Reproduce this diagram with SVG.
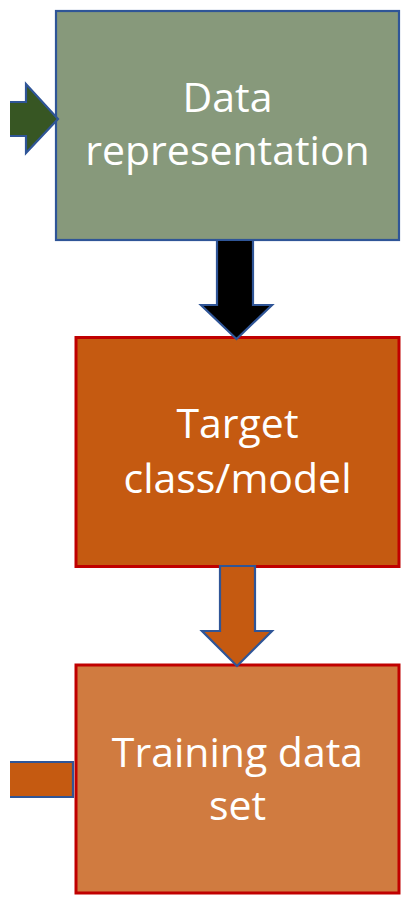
<svg xmlns="http://www.w3.org/2000/svg" width="410" height="901" viewBox="0 0 410 901">
  <style>
    .label { font-family: "Open Sans", "Noto Sans", "Liberation Sans", sans-serif; font-size: 41px; fill: #ffffff; text-anchor: middle; }
    .blue-edge { stroke: #2F5597; stroke-width: 2.2; stroke-linejoin: miter; }
    .red-edge { stroke: #C00000; stroke-width: 3; }
  </style>

  <!-- process boxes -->
  <g id="data-representation">
    <rect x="56" y="11" width="343" height="229" fill="#87997B" class="blue-edge"/>
    <text class="label" x="227.5" y="112">Data</text>
    <text class="label" x="227.5" y="165">representation</text>
  </g>

  <g id="target-class-model">
    <rect x="76" y="337.5" width="323" height="229" fill="#C55A11" class="red-edge"/>
    <text class="label" x="237.5" y="438">Target</text>
    <text class="label" x="237.5" y="493">class/model</text>
  </g>

  <g id="training-data-set">
    <rect x="76" y="665" width="323" height="228" fill="#D07B40" class="red-edge"/>
    <text class="label" x="237.5" y="767">Training data</text>
    <text class="label" x="237.5" y="820">set</text>
  </g>

  <!-- block arrows between and into the boxes -->
  <g id="connectors">
    <path d="M10,102 H26 V84 L58,119 L26,153 V136 H10" fill="#375623" class="blue-edge"/>
    <path d="M217,240 H253 V305 H272 L236.5,339 L201,305 H217 Z" fill="#000000" class="blue-edge"/>
    <path d="M220,566 H255 V631 H272 L237,666 L202,631 H220 Z" fill="#C55A11" class="blue-edge"/>
    <path d="M10,762 H73 V797 H10" fill="#C55A11" class="blue-edge"/>
  </g>
</svg>
